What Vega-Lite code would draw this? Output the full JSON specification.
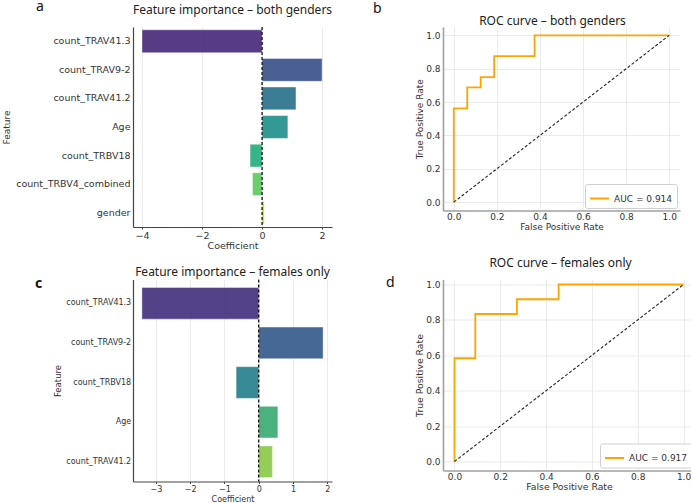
{
  "$schema": "https://vega.github.io/schema/vega-lite/v6.json",
  "background": "white",
  "padding": {"left": 2, "top": -1, "right": 0, "bottom": 0},
  "config": {
    "view": {"stroke": null},
    "font": "DejaVu Sans",
    "axis": {
      "labelFont": "DejaVu Sans",
      "titleFont": "DejaVu Sans",
      "titleFontWeight": "normal",
      "labelColor": "#333333",
      "titleColor": "#333333",
      "labelOverlap": false
    },
    "axisY": {"labelOverlap": false},
    "title": {"font": "Noto Sans", "fontWeight": "normal", "color": "#111111", "fontSize": 14, "anchor": "start", "frame": "group"}
  },
  "datasets": {
    "coef_both": [
      {"feature": "count_TRAV41.3", "coef": -4.0},
      {"feature": "count_TRAV9-2", "coef": 2.0},
      {"feature": "count_TRAV41.2", "coef": 1.13},
      {"feature": "Age", "coef": 0.86},
      {"feature": "count_TRBV18", "coef": -0.4},
      {"feature": "count_TRBV4_combined", "coef": -0.32},
      {"feature": "gender", "coef": 0.07}
    ],
    "coef_females": [
      {"feature": "count_TRAV41.3", "coef": -3.41},
      {"feature": "count_TRAV9-2", "coef": 1.88},
      {"feature": "count_TRBV18", "coef": -0.66},
      {"feature": "Age", "coef": 0.56},
      {"feature": "count_TRAV41.2", "coef": 0.4}
    ],
    "roc_both": [
      {"step": 0, "fpr": 0, "tpr": 0},
      {"step": 1, "fpr": 0, "tpr": 0.5625},
      {"step": 2, "fpr": 0.0625, "tpr": 0.5625},
      {"step": 3, "fpr": 0.0625, "tpr": 0.6875},
      {"step": 4, "fpr": 0.125, "tpr": 0.6875},
      {"step": 5, "fpr": 0.125, "tpr": 0.75},
      {"step": 6, "fpr": 0.1875, "tpr": 0.75},
      {"step": 7, "fpr": 0.1875, "tpr": 0.875},
      {"step": 8, "fpr": 0.375, "tpr": 0.875},
      {"step": 9, "fpr": 0.375, "tpr": 1},
      {"step": 10, "fpr": 1, "tpr": 1}
    ],
    "roc_females": [
      {"step": 0, "fpr": 0, "tpr": 0},
      {"step": 1, "fpr": 0, "tpr": 0.5833},
      {"step": 2, "fpr": 0.0909, "tpr": 0.5833},
      {"step": 3, "fpr": 0.0909, "tpr": 0.8333},
      {"step": 4, "fpr": 0.2727, "tpr": 0.8333},
      {"step": 5, "fpr": 0.2727, "tpr": 0.9167},
      {"step": 6, "fpr": 0.4545, "tpr": 0.9167},
      {"step": 7, "fpr": 0.4545, "tpr": 1},
      {"step": 8, "fpr": 1, "tpr": 1}
    ],
    "chance": [
      {"fpr": 0, "tpr": 0},
      {"fpr": 1, "tpr": 1}
    ]
  },
  "columns": 2,
  "bounds": "flush",
  "spacing": {"row": 52.5, "column": 111},
  "resolve": {"scale": {"color": "independent"}, "legend": {"color": "independent"}},
  "concat": [
    {
      "width": 199,
      "height": 200,
      "title": {"text": "a", "dx": -97, "offset": -10.5},
      "resolve": {"axis": {"x": "independent"}},
      "layer": [
        {
          "data": {"name": "coef_both"},
          "mark": {"type": "bar", "opacity": 0.92, "stroke": "white", "strokeWidth": 0.7, "strokeOpacity": 0.6},
          "encoding": {
            "y": {
              "field": "feature", "type": "nominal", "sort": null,
              "scale": {"paddingInner": 0.2, "paddingOuter": 0.1},
              "axis": {"title": "Feature", "labelFontSize": 9.5, "titleFontSize": 9, "labelPadding": 3, "titlePadding": 4, "ticks": false, "domainColor": "#444444", "domainWidth": 1.2, "grid": false}
            },
            "x": {
              "field": "coef", "type": "quantitative",
              "scale": {"domain": [-4.3, 2.33], "nice": false, "zero": false},
              "axis": {"title": "Coefficient", "values": [-4, -2, 0, 2], "labelFontSize": 9.5, "titleFontSize": 9.5, "tickSize": 2, "tickColor": "#444444", "labelPadding": 1, "titlePadding": 1, "domainColor": "#444444", "domainWidth": 1.2, "grid": true, "gridColor": "#e4e4e4", "gridWidth": 0.8}
            },
            "color": {
              "field": "feature", "type": "nominal", "sort": null,
              "scale": {
                "domain": ["count_TRAV41.3", "count_TRAV9-2", "count_TRAV41.2", "Age", "count_TRBV18", "count_TRBV4_combined", "gender"],
                "range": ["#472c7a", "#3b528b", "#2c728e", "#21918c", "#28ae80", "#5ec962", "#addc30"]
              },
              "legend": null
            }
          }
        },
        {
          "data": {"values": [{"ref": 0}]},
          "mark": {"type": "rule", "color": "black", "strokeDash": [3, 2], "strokeWidth": 1.2},
          "encoding": {
            "x": {
              "field": "ref", "type": "quantitative",
              "axis": {"orient": "top", "title": "Feature importance – both genders", "labels": false, "ticks": false, "domain": false, "grid": false, "titleFont": "Noto Sans", "titleFontSize": 12, "titleColor": "#222222", "titleX": 99, "titleY": -14, "titleAlign": "center", "titleBaseline": "alphabetic"}
            }
          }
        }
      ]
    },
    {
      "width": 237,
      "height": 183.5,
      "title": {"text": "b", "dx": -70, "offset": -1.5},
      "resolve": {"axis": {"x": "independent"}},
      "layer": [
        {
          "data": {"name": "roc_both"},
          "mark": {"type": "line", "strokeWidth": 1.8},
          "encoding": {
            "x": {
              "field": "fpr", "type": "quantitative",
              "scale": {"domain": [-0.05, 1.05], "nice": false, "zero": false},
              "axis": {"title": "False Positive Rate", "values": [0, 0.2, 0.4, 0.6, 0.8, 1], "format": ".1f", "labelFontSize": 9, "titleFontSize": 9, "ticks": false, "labelPadding": 2, "titlePadding": 1, "labelOverlap": false, "labelFlush": false, "domainColor": "#a0a0a0", "domainWidth": 1.6, "gridColor": "#e6e6e6", "gridWidth": 0.8}
            },
            "y": {
              "field": "tpr", "type": "quantitative",
              "scale": {"domain": [-0.05, 1.05], "nice": false, "zero": false},
              "axis": {"title": "True Positive Rate", "values": [0, 0.2, 0.4, 0.6, 0.8, 1], "format": ".1f", "labelFontSize": 9, "titleFontSize": 9, "ticks": false, "labelPadding": 3, "titlePadding": 1, "labelOverlap": false, "labelFlush": false, "domainColor": "#a0a0a0", "domainWidth": 1.6, "gridColor": "#e6e6e6", "gridWidth": 0.8}
            },
            "order": {"field": "step", "type": "quantitative"},
            "color": {
              "datum": "AUC = 0.914",
              "scale": {"range": ["#ffa500"]},
              "legend": {"title": null, "orient": "bottom-right", "offset": 3, "symbolType": "stroke", "symbolSize": 360, "symbolStrokeWidth": 2, "labelFont": "DejaVu Sans", "labelFontSize": 9, "labelColor": "#333333", "strokeColor": "#d0d0d0", "fillColor": "white", "padding": 4, "cornerRadius": 2}
            }
          }
        },
        {
          "data": {"name": "chance"},
          "mark": {"type": "line", "color": "#222222", "strokeDash": [3, 2], "strokeWidth": 1.1},
          "encoding": {
            "x": {
              "field": "fpr", "type": "quantitative",
              "axis": {"orient": "top", "title": "ROC curve – both genders", "labels": false, "ticks": false, "domain": false, "grid": false, "titleFont": "Noto Sans", "titleFontSize": 12, "titleColor": "#222222", "titleX": 109, "titleY": -2.5, "titleAlign": "center", "titleBaseline": "alphabetic"}
            },
            "y": {
              "field": "tpr", "type": "quantitative",
              "axis": {"title": "True Positive Rate", "values": [0, 0.2, 0.4, 0.6, 0.8, 1], "format": ".1f", "labelFontSize": 9, "titleFontSize": 9, "ticks": false, "labelPadding": 3, "titlePadding": 1, "labelOverlap": false, "labelFlush": false, "domainColor": "#a0a0a0", "domainWidth": 1.6, "gridColor": "#e6e6e6", "gridWidth": 0.8}
            }
          }
        }
      ]
    },
    {
      "width": 199,
      "height": 202,
      "title": {"text": "c", "dx": -98, "offset": -26, "fontWeight": "bold"},
      "resolve": {"axis": {"x": "independent"}},
      "layer": [
        {
          "data": {"name": "coef_females"},
          "mark": {"type": "bar", "opacity": 0.92, "stroke": "white", "strokeWidth": 0.7, "strokeOpacity": 0.6},
          "encoding": {
            "y": {
              "field": "feature", "type": "nominal", "sort": null,
              "scale": {"paddingInner": 0.2, "paddingOuter": 0.15, "align": 0.67},
              "axis": {"title": "Feature", "labelFontSize": 8, "titleFontSize": 8.5, "labelPadding": 2.3, "titlePadding": 3, "ticks": false, "domainColor": "#444444", "domainWidth": 1.2, "grid": false}
            },
            "x": {
              "field": "coef", "type": "quantitative",
              "scale": {"domain": [-3.67, 2.14], "nice": false, "zero": false},
              "axis": {"title": "Coefficient", "values": [-3, -2, -1, 0, 1, 2], "labelFontSize": 8, "titleFontSize": 8, "tickSize": 2, "tickColor": "#444444", "labelPadding": 2, "titlePadding": 2, "domainColor": "#444444", "domainWidth": 1.2, "grid": true, "gridColor": "#e4e4e4", "gridWidth": 0.8}
            },
            "color": {
              "field": "feature", "type": "nominal", "sort": null,
              "scale": {
                "domain": ["count_TRAV41.3", "count_TRAV9-2", "count_TRBV18", "Age", "count_TRAV41.2"],
                "range": ["#46337e", "#365c8d", "#277f8e", "#3cab74", "#8cc94a"]
              },
              "legend": null
            }
          }
        },
        {
          "data": {"values": [{"ref": 0}]},
          "mark": {"type": "rule", "color": "black", "strokeDash": [3, 2], "strokeWidth": 1.2},
          "encoding": {
            "x": {
              "field": "ref", "type": "quantitative",
              "axis": {"orient": "top", "title": "Feature importance – females only", "labels": false, "ticks": false, "domain": false, "grid": false, "titleFont": "Noto Sans", "titleFontSize": 12, "titleColor": "#222222", "titleX": 99, "titleY": -4.3, "titleAlign": "center", "titleBaseline": "alphabetic"}
            }
          }
        }
      ]
    },
    {
      "width": 252,
      "height": 191,
      "title": {"text": "d", "dx": -57, "offset": -33.5},
      "resolve": {"axis": {"x": "independent"}},
      "layer": [
        {
          "data": {"name": "roc_females"},
          "mark": {"type": "line", "strokeWidth": 1.8},
          "encoding": {
            "x": {
              "field": "fpr", "type": "quantitative",
              "scale": {"domain": [-0.05, 1.05], "nice": false, "zero": false},
              "axis": {"title": "False Positive Rate", "values": [0, 0.2, 0.4, 0.6, 0.8, 1], "format": ".1f", "labelFontSize": 9, "titleFontSize": 9.3, "ticks": false, "labelPadding": 2, "titlePadding": 1, "labelOverlap": false, "labelFlush": false, "domainColor": "#a0a0a0", "domainWidth": 1.6, "gridColor": "#e6e6e6", "gridWidth": 0.8}
            },
            "y": {
              "field": "tpr", "type": "quantitative",
              "scale": {"domain": [-0.0508, 1.0282], "nice": false, "zero": false},
              "axis": {"title": "True Positive Rate", "values": [0, 0.2, 0.4, 0.6, 0.8, 1], "format": ".1f", "labelFontSize": 9, "titleFontSize": 9.3, "ticks": false, "labelPadding": 3, "titlePadding": 1, "labelOverlap": false, "labelFlush": false, "domainColor": "#a0a0a0", "domainWidth": 1.6, "gridColor": "#e6e6e6", "gridWidth": 0.8}
            },
            "order": {"field": "step", "type": "quantitative"},
            "color": {
              "datum": "AUC = 0.917",
              "scale": {"range": ["#ffa500"]},
              "legend": {"title": null, "orient": "bottom-right", "offset": 3, "symbolType": "stroke", "symbolSize": 360, "symbolStrokeWidth": 2, "labelFont": "DejaVu Sans", "labelFontSize": 9, "labelColor": "#333333", "strokeColor": "#d0d0d0", "fillColor": "white", "padding": 4, "cornerRadius": 2}
            }
          }
        },
        {
          "data": {"name": "chance"},
          "mark": {"type": "line", "color": "#222222", "strokeDash": [3, 2], "strokeWidth": 1.1},
          "encoding": {
            "x": {
              "field": "fpr", "type": "quantitative",
              "axis": {"orient": "top", "title": "ROC curve – females only", "labels": false, "ticks": false, "domain": false, "grid": false, "titleFont": "Noto Sans", "titleFontSize": 12, "titleColor": "#222222", "titleX": 117, "titleY": -13, "titleAlign": "center", "titleBaseline": "alphabetic"}
            },
            "y": {
              "field": "tpr", "type": "quantitative",
              "axis": {"title": "True Positive Rate", "values": [0, 0.2, 0.4, 0.6, 0.8, 1], "format": ".1f", "labelFontSize": 9, "titleFontSize": 9.3, "ticks": false, "labelPadding": 3, "titlePadding": 1, "labelOverlap": false, "labelFlush": false, "domainColor": "#a0a0a0", "domainWidth": 1.6, "gridColor": "#e6e6e6", "gridWidth": 0.8}
            }
          }
        }
      ]
    }
  ]
}
